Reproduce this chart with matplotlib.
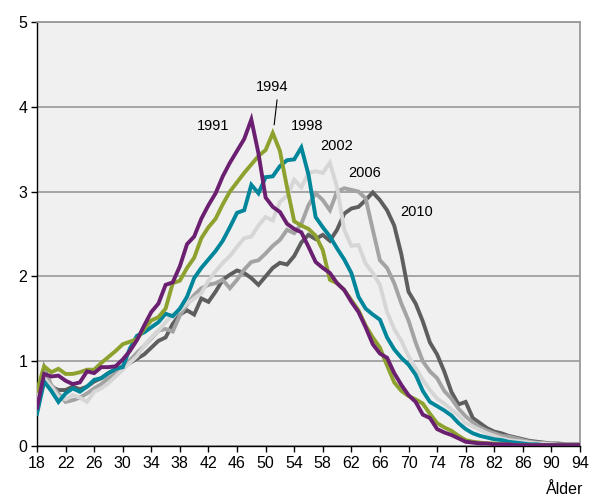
import numpy as np
import matplotlib
matplotlib.use('Agg')
import matplotlib.pyplot as plt

plt.rcParams['font.family'] = ['Liberation Sans', 'DejaVu Sans']

# ages 18..94
ages = list(range(18, 95))

y1991 = [0.45, 0.85, 0.82, 0.83, 0.77, 0.73, 0.75, 0.88, 0.86, 0.93,
         0.93, 0.94, 1.02, 1.12, 1.25, 1.42, 1.58, 1.68, 1.90, 1.93,
         2.12, 2.38, 2.47, 2.68, 2.84, 2.98, 3.18, 3.34, 3.48, 3.62,
         3.85, 3.45, 2.93, 2.82, 2.76, 2.62, 2.56, 2.52, 2.35, 2.17,
         2.10, 2.04, 1.92, 1.84, 1.70, 1.58, 1.40, 1.20, 1.09, 1.04,
         0.86, 0.72, 0.60, 0.52, 0.37, 0.33, 0.20, 0.16, 0.13, 0.09,
         0.05, 0.04, 0.03, 0.03, 0.02, 0.02, 0.02, 0.01, 0.01, 0.01,
         0.01, 0.01, 0.01, 0.01, 0.01, 0.01, 0.01]

y1994 = [0.65, 0.94, 0.87, 0.91, 0.85, 0.85, 0.87, 0.90, 0.90, 0.98,
         1.05, 1.12, 1.20, 1.23, 1.26, 1.38, 1.48, 1.52, 1.62, 1.92,
         1.95, 2.10, 2.22, 2.45, 2.58, 2.68, 2.85, 3.00, 3.11, 3.22,
         3.32, 3.42, 3.49, 3.69, 3.48, 3.05, 2.65, 2.60, 2.56, 2.48,
         2.31, 1.96, 1.92, 1.84, 1.72, 1.60, 1.42, 1.28, 1.16, 0.95,
         0.75, 0.65, 0.59, 0.55, 0.50, 0.38, 0.27, 0.22, 0.18, 0.12,
         0.07, 0.05, 0.04, 0.03, 0.03, 0.02, 0.02, 0.01, 0.01, 0.01,
         0.01, 0.01, 0.01, 0.01, 0.01, 0.01, 0.01]

y1998 = [0.38, 0.76, 0.65, 0.52, 0.62, 0.68, 0.64, 0.70, 0.78, 0.80,
         0.86, 0.91, 0.93, 1.15, 1.30, 1.34, 1.40, 1.46, 1.56, 1.53,
         1.62, 1.76, 1.98, 2.10, 2.20, 2.30, 2.42, 2.58, 2.75, 2.78,
         3.08, 2.98, 3.17, 3.18, 3.30, 3.37, 3.38, 3.52, 3.20, 2.70,
         2.58, 2.47, 2.33, 2.20, 2.04, 1.76, 1.62, 1.55, 1.49, 1.28,
         1.14, 1.04, 0.96, 0.84, 0.65, 0.52, 0.47, 0.42, 0.36, 0.27,
         0.20, 0.15, 0.12, 0.10, 0.08, 0.07, 0.05, 0.04, 0.03, 0.02,
         0.02, 0.01, 0.01, 0.01, 0.01, 0.01, 0.01]

y2002 = [0.55, 0.80, 0.70, 0.58, 0.55, 0.60, 0.57, 0.52, 0.64, 0.68,
         0.74, 0.82, 0.90, 0.98, 1.06, 1.18, 1.28, 1.36, 1.46, 1.55,
         1.60, 1.68, 1.74, 1.80, 1.95, 2.06, 2.16, 2.24, 2.35, 2.45,
         2.47, 2.60, 2.70, 2.66, 2.88, 2.95, 3.14, 3.05, 3.22, 3.24,
         3.22, 3.34, 3.05, 2.55, 2.36, 2.37, 2.15, 2.04, 1.90, 1.58,
         1.38, 1.24, 1.06, 0.92, 0.78, 0.66, 0.56, 0.50, 0.43, 0.36,
         0.27, 0.23, 0.19, 0.15, 0.12, 0.09, 0.07, 0.06, 0.05, 0.04,
         0.03, 0.03, 0.02, 0.01, 0.01, 0.01, 0.01]

y2006 = [0.60, 0.90, 0.72, 0.62, 0.52, 0.54, 0.57, 0.62, 0.68, 0.73,
         0.80, 0.85, 0.94, 1.01, 1.10, 1.18, 1.27, 1.36, 1.38, 1.35,
         1.54, 1.67, 1.78, 1.86, 1.90, 1.92, 1.96, 1.86, 1.96, 2.08,
         2.17, 2.19, 2.27, 2.36, 2.43, 2.55, 2.51, 2.62, 2.84, 2.98,
         2.90, 2.78, 3.00, 3.04, 3.02, 3.00, 2.92, 2.55, 2.19, 2.10,
         1.92, 1.68, 1.48, 1.22, 1.00, 0.88, 0.80, 0.65, 0.56, 0.44,
         0.35, 0.28, 0.22, 0.18, 0.15, 0.12, 0.11, 0.09, 0.07, 0.05,
         0.04, 0.03, 0.03, 0.02, 0.02, 0.02, 0.02]

y2010 = [0.55, 0.92, 0.70, 0.66, 0.66, 0.70, 0.67, 0.70, 0.76, 0.80,
         0.86, 0.90, 0.94, 0.98, 1.03, 1.08, 1.16, 1.24, 1.28, 1.44,
         1.55, 1.60, 1.55, 1.74, 1.70, 1.82, 1.96, 2.02, 2.07, 2.04,
         1.98, 1.90, 2.00, 2.10, 2.16, 2.14, 2.24, 2.40, 2.49, 2.44,
         2.49, 2.42, 2.55, 2.74, 2.80, 2.82, 2.90, 2.99, 2.90, 2.78,
         2.60, 2.26, 1.82, 1.68, 1.47, 1.22, 1.08, 0.88, 0.64, 0.49,
         0.52, 0.33, 0.27, 0.21, 0.17, 0.15, 0.12, 0.10, 0.08, 0.06,
         0.05, 0.04, 0.03, 0.03, 0.02, 0.02, 0.02]

# drawn bottom to top
series = [
    ('2010', y2010, '#5e5e5e'),
    ('2006', y2006, '#a3a3a3'),
    ('2002', y2002, '#d6d6d6'),
    ('1998', y1998, '#00869b'),
    ('1994', y1994, '#8da22e'),
    ('1991', y1991, '#6b1f70'),
]

# label positions (age, value)
label_pos = {
    '1991': (42.6, 3.77),
    '1994': (50.9, 4.23),
    '1998': (55.8, 3.77),
    '2002': (59.9, 3.54),
    '2006': (63.8, 3.22),
    '2010': (71.2, 2.76),
}

fig = plt.figure(figsize=(5.9, 5.03), dpi=100)
ax = fig.add_axes([0.0627, 0.1133, 0.9203, 0.843])
ax.set_facecolor('#f0f0f0')

for name, vals, col in series:
    ax.plot(ages, vals, color=col, lw=2.8, solid_joinstyle='miter', zorder=3)

for name, (xa, ya) in label_pos.items():
    ax.text(xa, ya, name, fontsize=10.5, ha='center', va='center', zorder=5)

# leader line for 1994
ax.plot([51.6, 51.2], [4.08, 3.79], color='black', lw=0.8, zorder=5)

ax.set_xlim(18, 94)
ax.set_ylim(0, 5)
ax.set_xticks(range(18, 95, 4))
ax.set_yticks(range(0, 6))
ax.yaxis.grid(True, color='#a0a0a0', lw=1.3)
ax.set_axisbelow(True)

ax.tick_params(axis='both', direction='out', length=4, width=1, labelsize=11.5, pad=3)
for s in ['left', 'bottom']:
    ax.spines[s].set_color('black')
    ax.spines[s].set_linewidth(1)
for s in ['top', 'right']:
    ax.spines[s].set_color('#999999')
    ax.spines[s].set_linewidth(1.3)

fig.text(583 / 590, 1 - 490 / 503, 'Ålder', fontsize=11.5, ha='right', va='center')

fig.savefig('out.png', dpi=100)
